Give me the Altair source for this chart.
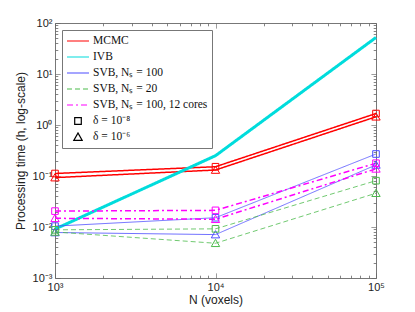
import altair as alt
import pandas as pd

# ---------------- data ----------------
N = [1e3, 1e4, 1e5]
mcmc_d8 = [0.112, 0.152, 1.68]
mcmc_d6 = [0.093, 0.131, 1.45]
ivb = [0.0091, 0.25, 52.0]
svb100_d8 = [0.0104, 0.0152, 0.27]
svb100_d6 = [0.0078, 0.0071, 0.165]
svb20_d8 = [0.0088, 0.0092, 0.081]
svb20_d6 = [0.0080, 0.0048, 0.046]
svb12_d8 = [0.0205, 0.0212, 0.178]
svb12_d6 = [0.0148, 0.0142, 0.138]

methods = ["MCMC", "IVB", "SVB, Nₛ = 100", "SVB, Nₛ = 20", "SVB, Nₛ = 100, 12 cores"]
deltas = ["δ = 10⁻⁸", "δ = 10⁻⁶"]
method_colors = ["#FF0000", "#00DCDC", "#4D4DFF", "#4CBB4C", "#FF00FF"]
method_widths = [1.5, 3.0, 0.8, 0.8, 1.5]
method_dash = [[1, 0], [1, 0], [1, 0], [5, 3], [6, 3, 2, 3]]

series = [
    (methods[0], deltas[0], mcmc_d8),
    (methods[0], deltas[1], mcmc_d6),
    (methods[1], "none", ivb),
    (methods[2], deltas[0], svb100_d8),
    (methods[2], deltas[1], svb100_d6),
    (methods[3], deltas[0], svb20_d8),
    (methods[3], deltas[1], svb20_d6),
    (methods[4], deltas[0], svb12_d8),
    (methods[4], deltas[1], svb12_d6),
]

line_rows, point_rows = [], []
for m, d, vals in series:
    lw = method_widths[methods.index(m)]
    for n, v in zip(N, vals):
        line_rows.append({"entry": m, "sid": m + "|" + d, "N": n, "t": v, "lw": lw})
        if d != "none":
            point_rows.append({"entry": d, "method": m, "N": n, "t": v})
lines_df = pd.DataFrame(line_rows)
points_df = pd.DataFrame(point_rows)

entries = methods + deltas
sq = "M-0.3,-0.3H0.3V0.3H-0.3Z"
tri = "M0,-0.36L0.38,0.3H-0.38Z"
shape_range = ["stroke"] * 5 + [sq, tri]
color_range = method_colors + ["#000000", "#000000"]
dash_range = method_dash + [[1, 0], [1, 0]]

sup = str.maketrans("-0123456789", "⁻⁰¹²³⁴⁵⁶⁷⁸⁹")


def label_expr(exps):
    e = "round(log(datum.value)/LN10*1000)"
    s = ""
    for k in exps:
        s += f"{e} == {k * 1000} ? '10{str(k).translate(sup)}' : "
    return s + "''"


major = "abs(log(datum.value)/LN10 - round(log(datum.value)/LN10)) < 0.001"
tick_dash = {"condition": {"test": major, "value": [1, 0]}, "value": [0, 2.2, 3, 100]}

x_vals = [k * 10 ** d for d in (3, 4) for k in range(1, 10)] + [1e5]
y_vals = [round(k * 10.0 ** d, 6) for d in (-3, -2, -1, 0, 1) for k in range(1, 10)] + [100]

AX = dict(domain=False, grid=False, offset=-5, tickSize=5, tickColor="#666",
          tickWidth=0.8, tickDash=tick_dash, labelFlush=False, labelOverlap=False,
          labelFont="Liberation Sans", labelFontSize=11, labelColor="#222",
          titleFont="Liberation Sans", titleFontSize=12, titleFontWeight="normal",
          titleColor="#222")

x_bottom = alt.Axis(orient="bottom", values=x_vals, labelExpr=label_expr([3, 4, 5]),
                    title="N (voxels)", labelPadding=3, titlePadding=2, **AX)
x_top = alt.Axis(orient="top", values=x_vals, labels=False, title=None, **AX)
y_left = alt.Axis(orient="left", values=y_vals, labelExpr=label_expr([-3, -2, -1, 0, 1, 2]),
                  title="Processing time (h, log-scale)", labelPadding=3, titlePadding=5, **AX)
y_right = alt.Axis(orient="right", values=y_vals, labels=False, title=None, **AX)

xs = alt.Scale(type="log", domain=[1e3, 1e5], nice=False)
ys = alt.Scale(type="log", domain=[1e-3, 1e2], nice=False)

lines = alt.Chart(lines_df).mark_line().encode(
    x=alt.X("N:Q", scale=xs, axis=x_bottom),
    y=alt.Y("t:Q", scale=ys, axis=y_left),
    detail="sid:N",
    color=alt.Color("entry:N", scale=alt.Scale(domain=entries, range=color_range), title=None),
    strokeDash=alt.StrokeDash("entry:N", scale=alt.Scale(domain=entries, range=dash_range), title=None),
    strokeWidth=alt.StrokeWidth("lw:Q", scale=None),
    order="N:Q",
)

points = alt.Chart(points_df).mark_point(filled=False, size=484, strokeWidth=1, opacity=1).encode(
    x=alt.X("N:Q", scale=xs, axis=x_top),
    y=alt.Y("t:Q", scale=ys, axis=y_right),
    shape=alt.Shape("entry:N", scale=alt.Scale(domain=entries, range=shape_range), title=None),
    stroke=alt.Stroke("method:N", scale=alt.Scale(domain=methods, range=method_colors), legend=None),
)

chart = alt.layer(lines, points).properties(
    width=321, height=255,
    autosize=alt.AutoSizeParams(type="none"),
    padding={"left": 47, "top": 15, "right": 20, "bottom": 30},
).configure_view(stroke="#777", strokeWidth=1).configure_legend(
    orient="top-left", offset=7, padding=4, strokeColor="#777", fillColor="white",
    labelFont="Liberation Serif", labelFontSize=11.5, labelColor="#111",
    symbolSize=484, clipHeight=14, rowPadding=2, labelOffset=3,
    symbolStrokeWidth=1.2, symbolFillColor="transparent", cornerRadius=0,
)

chart.save("out.html", embed_options={"renderer": "svg", "actions": False})
